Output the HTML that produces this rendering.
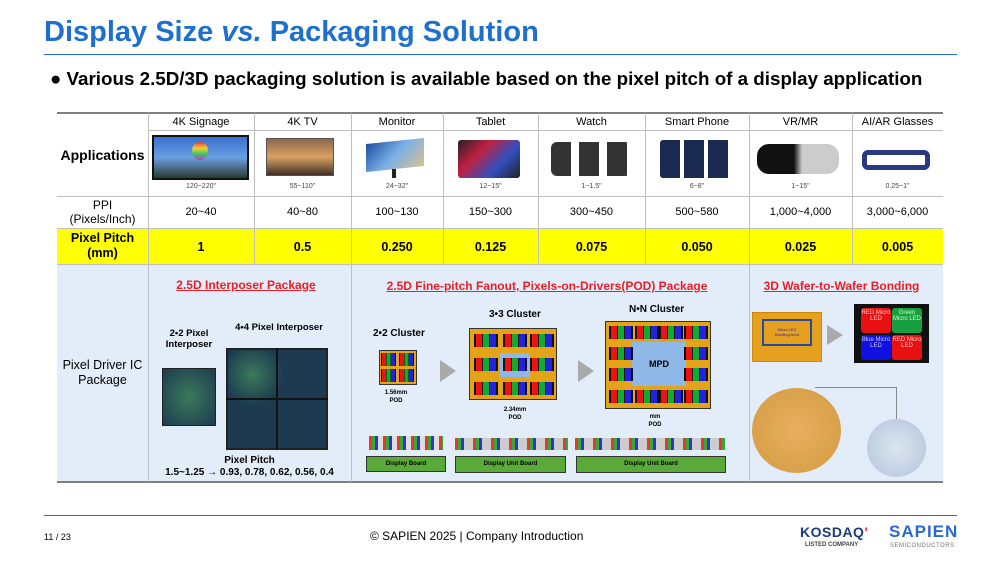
<!DOCTYPE html>
<html><head><meta charset="utf-8"><style>
*{margin:0;padding:0;box-sizing:border-box}
body{width:990px;height:562px;background:#fff;font-family:"Liberation Sans",Arial,sans-serif;position:relative;overflow:hidden;color:#000}
.a{position:absolute}
.c{position:absolute;text-align:center}
.hl{position:absolute;background:#bfbfbf;height:1px}
.vl{position:absolute;background:#bfbfbf;width:1px}
.red{color:#e8202a;font-weight:bold;text-decoration:underline;font-size:12px}
.px{position:absolute;height:13px;width:24px;background:linear-gradient(90deg,#111 0 8%,#e11 8% 33%,#111 33% 38%,#1a3 38% 62%,#111 62% 67%,#22d 67% 92%,#111 92%)}
</style></head><body>
<div class="a" style="left:44px;top:16px;font-size:29px;font-weight:bold;color:#1f6fd1">Display Size <i>vs.</i> Packaging Solution</div>
<div class="a" style="left:44px;top:54px;width:913px;height:1px;background:#1f6fd1"></div>
<div class="a" style="left:50px;top:68px;font-size:18.8px;font-weight:bold;white-space:nowrap">● Various 2.5D/3D packaging solution is available based on the pixel pitch of a display application</div>

<div class="a" style="left:57px;top:229px;width:886px;height:35px;background:#ffff00"></div>
<div class="a" style="left:57px;top:264px;width:886px;height:218px;background:#e3ecf9"></div>
<div class="a" style="left:57px;top:112px;width:886px;height:2px;background:#7f7f7f"></div>
<div class="a" style="left:57px;top:481px;width:886px;height:2px;background:#7f7f7f"></div>
<div class="hl" style="left:148px;top:130px;width:795px"></div>
<div class="hl" style="left:57px;top:196px;width:886px"></div>
<div class="hl" style="left:57px;top:228px;width:886px"></div>
<div class="hl" style="left:57px;top:264px;width:886px"></div>
<div class="vl" style="left:148px;top:113px;height:369px"></div>
<div class="vl" style="left:254px;top:113px;height:151px"></div>
<div class="vl" style="left:351px;top:113px;height:369px"></div>
<div class="vl" style="left:443px;top:113px;height:151px"></div>
<div class="vl" style="left:538px;top:113px;height:151px"></div>
<div class="vl" style="left:645px;top:113px;height:151px"></div>
<div class="vl" style="left:749px;top:113px;height:369px"></div>
<div class="vl" style="left:852px;top:113px;height:151px"></div>

<div class="c" style="left:57px;top:147px;width:91px;font-size:14px;font-weight:bold">Applications</div>
<div class="c" style="left:57px;top:198px;width:91px;font-size:12px;line-height:14px">PPI<br>(Pixels/Inch)</div>
<div class="c" style="left:57px;top:231px;width:91px;font-size:12.5px;font-weight:bold;line-height:15px">Pixel Pitch<br>(mm)</div>
<div class="c" style="left:57px;top:358px;width:91px;font-size:12.5px;line-height:15px">Pixel Driver IC<br>Package</div>

<div class="c" style="left:148px;top:116px;width:106px;font-size:11px">4K Signage</div>
<div class="c" style="left:254px;top:116px;width:97px;font-size:11px">4K TV</div>
<div class="c" style="left:351px;top:116px;width:92px;font-size:11px">Monitor</div>
<div class="c" style="left:443px;top:116px;width:95px;font-size:11px">Tablet</div>
<div class="c" style="left:538px;top:116px;width:107px;font-size:11px">Watch</div>
<div class="c" style="left:645px;top:116px;width:104px;font-size:11px">Smart Phone</div>
<div class="c" style="left:749px;top:116px;width:103px;font-size:11px">VR/MR</div>
<div class="c" style="left:852px;top:116px;width:91px;font-size:11px">AI/AR Glasses</div>

<div class="c" style="left:148px;top:183px;width:106px;font-size:7px;color:#444">120~220"</div>
<div class="c" style="left:254px;top:183px;width:97px;font-size:7px;color:#444">55~110"</div>
<div class="c" style="left:351px;top:183px;width:92px;font-size:7px;color:#444">24~32"</div>
<div class="c" style="left:443px;top:183px;width:95px;font-size:7px;color:#444">12~15"</div>
<div class="c" style="left:538px;top:183px;width:107px;font-size:7px;color:#444">1~1.5"</div>
<div class="c" style="left:645px;top:183px;width:104px;font-size:7px;color:#444">6~8"</div>
<div class="c" style="left:749px;top:183px;width:103px;font-size:7px;color:#444">1~15"</div>
<div class="c" style="left:852px;top:183px;width:91px;font-size:7px;color:#444">0.25~1"</div>

<div class="a" style="left:152px;top:135px;width:97px;height:45px;background:linear-gradient(#3a6fd0,#6aa0e0 50%,#2a3a30);border:2px solid #111"></div>
<div class="a" style="left:192px;top:142px;width:16px;height:18px;border-radius:50%;background:linear-gradient(#e33,#fc3,#3c6,#c3c)"></div>
<div class="a" style="left:266px;top:138px;width:68px;height:38px;background:linear-gradient(#8a6a50,#d9a060 50%,#403028);border:1px solid #555"></div>
<div class="a" style="left:366px;top:141px;width:58px;height:28px;background:linear-gradient(135deg,#1e4fa0,#7ab0e8,#d9c090);transform:skewY(-6deg)"></div>
<div class="a" style="left:392px;top:169px;width:4px;height:9px;background:#222"></div>
<div class="a" style="left:458px;top:140px;width:62px;height:38px;background:linear-gradient(135deg,#222,#c02040,#3050c0,#222);border-radius:3px"></div>
<div class="a" style="left:551px;top:142px;width:80px;height:34px;background:repeating-linear-gradient(90deg,#333 0 20px,#fff 20px 28px);border-radius:6px"></div>
<div class="a" style="left:660px;top:140px;width:70px;height:38px;background:repeating-linear-gradient(90deg,#1a2a50 0 20px,#fff 20px 24px);border-radius:3px"></div>
<div class="a" style="left:757px;top:144px;width:82px;height:30px;background:linear-gradient(90deg,#111 45%,#ccc 55%);border-radius:12px"></div>
<div class="a" style="left:862px;top:150px;width:68px;height:20px;border:5px solid #2a3a80;border-radius:6px"></div>

<div class="c" style="left:148px;top:206px;width:106px;font-size:11px">20~40</div>
<div class="c" style="left:254px;top:206px;width:97px;font-size:11px">40~80</div>
<div class="c" style="left:351px;top:206px;width:92px;font-size:11px">100~130</div>
<div class="c" style="left:443px;top:206px;width:95px;font-size:11px">150~300</div>
<div class="c" style="left:538px;top:206px;width:107px;font-size:11px">300~450</div>
<div class="c" style="left:645px;top:206px;width:104px;font-size:11px">500~580</div>
<div class="c" style="left:749px;top:206px;width:103px;font-size:11px">1,000~4,000</div>
<div class="c" style="left:852px;top:206px;width:91px;font-size:11px">3,000~6,000</div>

<div class="c" style="left:148px;top:240px;width:106px;font-size:12.5px;font-weight:bold">1</div>
<div class="c" style="left:254px;top:240px;width:97px;font-size:12.5px;font-weight:bold">0.5</div>
<div class="c" style="left:351px;top:240px;width:92px;font-size:12.5px;font-weight:bold">0.250</div>
<div class="c" style="left:443px;top:240px;width:95px;font-size:12.5px;font-weight:bold">0.125</div>
<div class="c" style="left:538px;top:240px;width:107px;font-size:12.5px;font-weight:bold">0.075</div>
<div class="c" style="left:645px;top:240px;width:104px;font-size:12.5px;font-weight:bold">0.050</div>
<div class="c" style="left:749px;top:240px;width:103px;font-size:12.5px;font-weight:bold">0.025</div>
<div class="c" style="left:852px;top:240px;width:91px;font-size:12.5px;font-weight:bold">0.005</div>

<div class="c red" style="left:148px;top:278px;width:196px">2.5D Interposer Package</div>
<div class="c red" style="left:351px;top:279px;width:392px">2.5D Fine-pitch Fanout, Pixels-on-Drivers(POD) Package</div>
<div class="c red" style="left:749px;top:279px;width:185px">3D Wafer-to-Wafer Bonding</div>

<div class="c" style="left:160px;top:328px;width:58px;font-size:9.5px;font-weight:bold;line-height:11px">2•2 Pixel<br>Interposer</div>
<div class="c" style="left:224px;top:322px;width:110px;font-size:9.5px;font-weight:bold">4•4 Pixel Interposer</div>
<div class="a" style="left:162px;top:368px;width:54px;height:58px;background:radial-gradient(#3a7a5a,#1d3a50);border:1px solid #222"></div>
<div class="a" style="left:226px;top:348px;width:102px;height:102px;background:radial-gradient(circle at 25% 25%,#3a7a5a,#1d3a50 30%),radial-gradient(circle at 75% 75%,#3a7a5a,#1d3a50 30%);background-color:#1d3a50;border:2px solid #222"></div>
<div class="a" style="left:276px;top:348px;width:2px;height:102px;background:#111"></div>
<div class="a" style="left:226px;top:398px;width:102px;height:2px;background:#111"></div>
<div class="c" style="left:148px;top:455px;width:203px;font-size:10px;font-weight:bold;line-height:12px">Pixel Pitch<br>1.5~1.25 → 0.93, 0.78, 0.62, 0.56, 0.4</div>

<div class="a" style="left:373px;top:328px;font-size:10px;font-weight:bold">2•2 Cluster</div>
<div class="a" style="left:379px;top:350px;width:38px;height:35px;background:#e5a317;border:1px solid #333"></div>
<div class="px" style="left:381px;top:353px;width:15px"></div><div class="px" style="left:399px;top:353px;width:15px"></div>
<div class="px" style="left:381px;top:369px;width:15px"></div><div class="px" style="left:399px;top:369px;width:15px"></div>
<div class="c" style="left:376px;top:389px;width:40px;font-size:6px;font-weight:bold;line-height:8px">1.56mm<br>POD</div>
<div class="a" style="left:440px;top:360px;width:0;height:0;border-left:16px solid #aaa;border-top:11px solid transparent;border-bottom:11px solid transparent"></div>
<div class="a" style="left:489px;top:309px;font-size:10px;font-weight:bold">3•3 Cluster</div>
<div class="a" style="left:469px;top:328px;width:88px;height:72px;background:#e5a317;border:1px solid #333"></div>
<div class="a" style="left:500px;top:353px;width:30px;height:24px;background:#8db8e8"></div>
<div class="px" style="left:474px;top:334px"></div><div class="px" style="left:503px;top:334px"></div><div class="px" style="left:530px;top:334px"></div>
<div class="px" style="left:474px;top:358px"></div><div class="px" style="left:503px;top:358px"></div><div class="px" style="left:530px;top:358px"></div>
<div class="px" style="left:474px;top:382px"></div><div class="px" style="left:503px;top:382px"></div><div class="px" style="left:530px;top:382px"></div>
<div class="c" style="left:490px;top:406px;width:50px;font-size:6px;font-weight:bold;line-height:8px">2.34mm<br>POD</div>
<div class="a" style="left:578px;top:360px;width:0;height:0;border-left:16px solid #aaa;border-top:11px solid transparent;border-bottom:11px solid transparent"></div>
<div class="a" style="left:629px;top:304px;font-size:10px;font-weight:bold">N•N Cluster</div>
<div class="a" style="left:605px;top:321px;width:106px;height:88px;background:#e5a317;border:1px solid #333"></div>
<div class="a" style="left:632px;top:342px;width:54px;height:44px;background:#8db8e8"></div>
<div class="px" style="left:609px;top:326px"></div><div class="px" style="left:635px;top:326px"></div><div class="px" style="left:659px;top:326px"></div><div class="px" style="left:684px;top:326px"></div>
<div class="px" style="left:609px;top:347px"></div><div class="px" style="left:684px;top:347px"></div>
<div class="px" style="left:609px;top:368px"></div><div class="px" style="left:684px;top:368px"></div>
<div class="px" style="left:609px;top:390px"></div><div class="px" style="left:635px;top:390px"></div><div class="px" style="left:659px;top:390px"></div><div class="px" style="left:684px;top:390px"></div>
<div class="c" style="left:632px;top:359px;width:54px;font-size:9px;font-weight:bold">MPD</div>
<div class="c" style="left:630px;top:413px;width:50px;font-size:6px;font-weight:bold;line-height:8px">mm<br>POD</div>

<div class="a" style="left:369px;top:436px;width:74px;height:14px;background:repeating-linear-gradient(90deg,#e33 0 3px,#3a3 3px 6px,#33c 6px 9px,#ddd 9px 14px)"></div>
<div class="a" style="left:455px;top:438px;width:113px;height:12px;background:repeating-linear-gradient(90deg,#e33 0 3px,#3a3 3px 6px,#33c 6px 9px,#ccc 9px 18px)"></div>
<div class="a" style="left:575px;top:438px;width:150px;height:12px;background:repeating-linear-gradient(90deg,#e33 0 3px,#3a3 3px 6px,#33c 6px 9px,#ccc 9px 18px)"></div>
<div class="a" style="left:366px;top:456px;width:80px;height:16px;background:#5aaa3a;border:1px solid #333;font-size:6px;font-weight:bold;text-align:center;line-height:14px">Display Board</div>
<div class="a" style="left:455px;top:456px;width:111px;height:17px;background:#5aaa3a;border:1px solid #333;font-size:6px;font-weight:bold;text-align:center;line-height:15px">Display Unit Board</div>
<div class="a" style="left:576px;top:456px;width:150px;height:17px;background:#5aaa3a;border:1px solid #333;font-size:6px;font-weight:bold;text-align:center;line-height:15px">Display Unit Board</div>

<div class="a" style="left:752px;top:312px;width:70px;height:50px;background:#e5a020;border:1px solid #c80"></div>
<div class="a" style="left:762px;top:319px;width:50px;height:27px;border:2px solid #2a4aa0;font-size:4px;color:#32a;text-align:center;padding-top:6px">Micro LED<br>Bonding Area</div>
<div class="a" style="left:827px;top:325px;width:0;height:0;border-left:16px solid #aaa;border-top:10px solid transparent;border-bottom:10px solid transparent"></div>
<div class="a" style="left:854px;top:304px;width:75px;height:59px;background:#111"></div>
<div class="a" style="left:861px;top:308px;width:30px;height:25px;background:#e81010;border-radius:3px;font-size:6px;color:#fcc;text-align:center;padding-top:2px">RED Micro LED</div>
<div class="a" style="left:892px;top:308px;width:30px;height:25px;background:#18a040;border-radius:3px;font-size:6px;color:#cfc;text-align:center;padding-top:2px">Green Micro LED</div>
<div class="a" style="left:861px;top:335px;width:30px;height:25px;background:#1010e0;border-radius:3px;font-size:6px;color:#ccf;text-align:center;padding-top:2px">Blue Micro LED</div>
<div class="a" style="left:892px;top:335px;width:30px;height:25px;background:#e81010;border-radius:3px;font-size:6px;color:#fcc;text-align:center;padding-top:2px">RED Micro LED</div>
<div class="a" style="left:752px;top:388px;width:89px;height:85px;border-radius:50%;background:radial-gradient(#e8b060,#d49a40)"></div>
<div class="a" style="left:867px;top:419px;width:59px;height:58px;border-radius:50%;background:radial-gradient(#dce4f0,#b4c4dc)"></div>
<div class="a" style="left:815px;top:387px;width:82px;height:32px;border-top:1px solid #888;border-right:1px solid #888"></div>

<div class="a" style="left:44px;top:515px;width:913px;height:1px;background:#1f6fd1"></div>
<div class="a" style="left:44px;top:532px;font-size:9px">11 / 23</div>
<div class="a" style="left:370px;top:529px;font-size:12px">© SAPIEN 2025 | Company Introduction</div>
<div class="a" style="left:800px;top:524px;font-size:14px;font-weight:bold;color:#1a3a80;letter-spacing:0.5px">KOSDAQ<span style="color:#e33">'</span></div>
<div class="a" style="left:805px;top:542px;font-size:6px;font-weight:bold;color:#444">LISTED COMPANY</div>
<div class="a" style="left:889px;top:522px;font-size:17px;font-weight:bold;color:#2a6ad0;letter-spacing:1px">SAPIEN</div>
<div class="a" style="left:890px;top:543px;font-size:6px;color:#777;letter-spacing:0.5px">SEMICONDUCTORS</div>
</body></html>
